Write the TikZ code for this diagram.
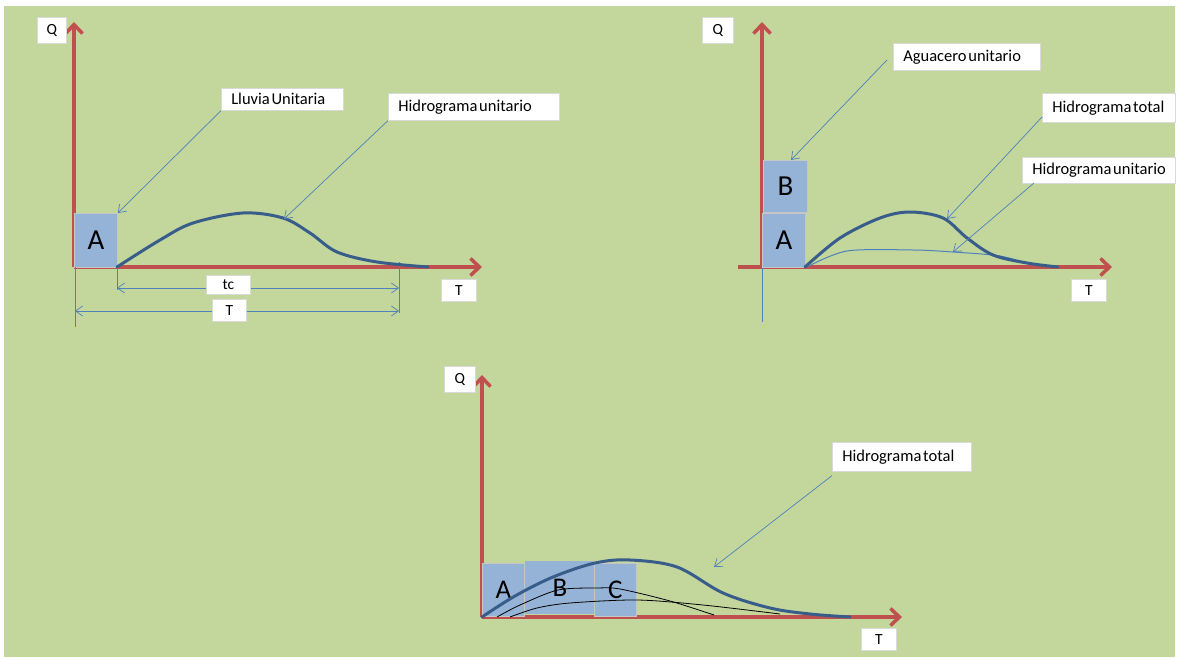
\documentclass[tikz,border=0pt]{standalone}
\usepackage{fontspec}
\setmainfont{Carlito}
\usetikzlibrary{arrows.meta}
\definecolor{bg}{HTML}{C3D69B}
\definecolor{axisred}{HTML}{C0504D}
\definecolor{boxblue}{HTML}{95B3D7}
\definecolor{hydro}{HTML}{385D8A}
\definecolor{callout}{HTML}{4F81BD}
% one-line label text with tight word spacing
\newcommand\lbltext[1]{\mbox{\spaceskip=1.8pt\relax #1}}
\begin{document}
\begin{tikzpicture}[x=1pt,y=-1pt,
  axis/.style={draw=axisred, line width=3.5pt, -{Straight Barb[length=9pt,width=17pt]}},
  rainbox/.style={draw=gray!45, fill=boxblue, line width=0.8pt, inner sep=0pt, anchor=north west, font=\fontsize{29}{32}\selectfont},
  lbl/.style={draw=gray!30, fill=white, line width=0.6pt, inner xsep=10pt, inner ysep=0pt, align=left, anchor=north west,
              font=\fontsize{16.5}{19}\selectfont},
  axlbl/.style={draw=gray!30, fill=white, line width=0.6pt, inner sep=0pt, anchor=north west, font=\fontsize{15.5}{18}\selectfont},
  pointer/.style={draw=callout, line width=0.7pt, -{Straight Barb[length=7pt,width=10pt]}},
  dimline/.style={draw=callout, line width=0.7pt, {Straight Barb[length=7pt,width=10pt]}-{Straight Barb[length=7pt,width=10pt]}},
  tickline/.style={draw=callout, line width=0.7pt},
  total/.style={draw=hydro, line width=3pt, line cap=round},
  unit/.style={draw=callout, line width=1pt},
  partial/.style={draw=black, line width=0.8pt}
]
% page and background
\fill[white] (0,0) rectangle (1178,658);
\fill[bg] (4,6) rectangle (1175,657);
\useasboundingbox (0,0) rectangle (1178,658);

% ---------------- unit hydrograph ----------------
\coordinate (o1) at (74,267);
\coordinate (q1) at (74,22);
\coordinate (t1) at (482,267);
\draw[axis] (o1) -- (q1);
\draw[axis] (o1) -- (t1);
\node[rainbox, minimum width=43, minimum height=54] (A1) at (74,213) {A};

% time base and concentration time
\coordinate (tcA) at (117,267);  \coordinate (tcB) at (117,290);
\coordinate (tcL) at (117,288);  \coordinate (tcR) at (399,288);
\coordinate (rA) at (399,262);   \coordinate (rB) at (399,313);
\coordinate (tA) at (75,267);    \coordinate (tB) at (75,327);
\coordinate (tL) at (75,311);    \coordinate (tR) at (399,311);
\draw[tickline] (tcA) -- (tcB);
\draw[tickline] (rA) -- (rB);
\draw[tickline] (tA) -- (tB);
\draw[dimline] (tcL) -- (tcR);
\draw[dimline] (tL) -- (tR);
\node[axlbl, minimum width=44, minimum height=19] (tc) at (206,275) {tc};
\node[axlbl, minimum width=34, minimum height=22] (Tb) at (212,299) {T};

\draw[total] plot[smooth, tension=0.55] coordinates {(117,267) (160,240) (193,223) (243,213) (283,218) (310,233) (337,252) (377,262) (428,267)};

\node[axlbl, minimum width=29, minimum height=26] (Q1) at (37,17) {Q};
\node[axlbl, minimum width=35, minimum height=22] (T1) at (441,279) {T};
\node[lbl, minimum height=22, text width=102] (ll) at (221,88) {\lbltext{Lluvia Unitaria}};
\node[lbl, minimum height=27, text width=151] (hu1) at (388,93) {\lbltext{Hidrograma unitario}};
\coordinate (p1) at (284,219);
\draw[pointer] (ll.south west) -- (A1.north east);
\draw[pointer] (hu1.south west) -- (p1);

% ---------------- two storms ----------------
\coordinate (o2) at (762,267);
\coordinate (x2) at (738,267);
\coordinate (q2) at (762,22);
\coordinate (t2) at (1112,267);
\draw[axis] (o2) -- (q2);
\draw[axis] (x2) -- (t2);
\coordinate (s2a) at (762,267); \coordinate (s2b) at (762,322);
\draw[tickline] (s2a) -- (s2b);
\node[rainbox, minimum width=43, minimum height=54] (A2) at (762,213) {A};
\node[rainbox, minimum width=44, minimum height=52] (B2) at (763,160) {B};

\draw[unit] plot[smooth, tension=0.5] coordinates {(807,267) (847,251) (913,250) (953,252) (1000,256) (1032,265)};
\draw[total] plot[smooth, tension=0.55] coordinates {(805,267) (840,238) (880,218) (910,212) (943,218) (967,238) (993,255) (1027,263) (1058,267)};

\node[axlbl, minimum width=31, minimum height=26] (Q2) at (702,17) {Q};
\node[axlbl, minimum width=35, minimum height=22] (T2) at (1071,279) {T};
\node[lbl, minimum height=27, text width=127] (ag) at (893,43) {\lbltext{Aguacero unitario}};
\node[lbl, minimum height=29, text width=113] (ht2) at (1042,93) {\lbltext{Hidrograma total}};
\node[lbl, minimum height=26, text width=133] (hu2) at (1022,157) {\lbltext{Hidrograma unitario}};
\coordinate (ag0) at (887,60);   \coordinate (agB) at (791,160);
\coordinate (ht0) at (1042,117); \coordinate (htE) at (947,219);
\coordinate (hu0) at (1034,183); \coordinate (huE) at (953,252);
\draw[pointer] (ag0) -- (agB);
\draw[pointer] (ht0) -- (htE);
\draw[pointer] (hu0) -- (huE);

% ---------------- three storms ----------------
\coordinate (o3) at (482,617);
\coordinate (q3) at (482,375);
\coordinate (t3) at (902,617);
\draw[axis] (o3) -- (q3);
\draw[axis] (o3) -- (t3);
\node[rainbox, minimum width=42, minimum height=53, font=\fontsize{27}{30}\selectfont] (A3) at (482,563) {A};
\node[rainbox, draw=none, minimum width=69, minimum height=53, font=\fontsize{27}{30}\selectfont] (B3) at (525,561) {B};
\node[rainbox, minimum width=42, minimum height=53, font=\fontsize{27}{30}\selectfont] (C3) at (594,563) {C};

\draw[partial] plot[smooth, tension=0.5] coordinates {(497,617) (520,605) (558,590) (597,588) (620,589) (670,601) (714,615)};
\draw[partial] plot[smooth, tension=0.5] coordinates {(510,617) (537,608) (570,603) (637,600) (703,605) (780,614)};
\draw[total] plot[smooth, tension=0.55] coordinates {(482,617) (515,596) (553,577) (595,563) (630,560) (677,567) (723,593) (770,608) (810,614) (850,617)};

\node[axlbl, minimum width=31, minimum height=26] (Q3) at (444,366) {Q};
\node[axlbl, minimum width=35, minimum height=22] (T3) at (861,628) {T};
\node[lbl, minimum height=29, text width=119] (ht3) at (832,442) {\lbltext{Hidrograma total}};
\coordinate (ht3E) at (714,567);
\draw[pointer] ([yshift=-4pt]ht3.south west) -- (ht3E);
\end{tikzpicture}
\end{document}
